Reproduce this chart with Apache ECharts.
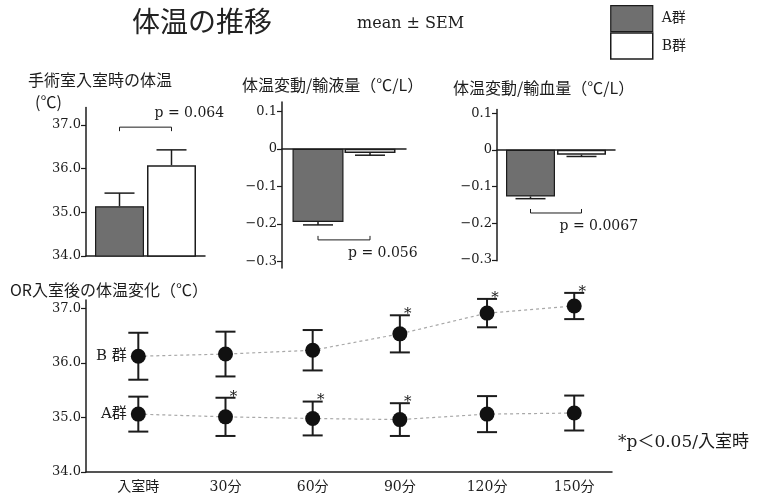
<!DOCTYPE html>
<html>
<head>
<meta charset="utf-8">
<script src="https://cdn.jsdelivr.net/npm/echarts@6/dist/echarts.min.js"></script>
<style>
  html, body { margin: 0; padding: 0; background: #fff; }
  #main { width: 764px; height: 495px; }
</style>
</head>
<body>
<div id="main"></div>
<script>
// --- data ---
const groups = ['A群', 'B群'];
const orMean = [35.14, 36.08];        // 手術室入室時の体温
const orSem = [0.30, 0.35];
const fluidMean = [-0.195, -0.011];   // 体温変動/輸液量
const fluidSem = [0.008, 0.006];
const bloodMean = [-0.127, -0.013];   // 体温変動/輸血量
const bloodSem = [0.006, 0.005];
const pLabels = ['p = 0.064', 'p = 0.056', 'p = 0.0067'];
const bracketLevel = [36.95, -0.243, -0.172];

const times = ['入室時', '30分', '60分', '90分', '120分', '150分'];
const minutes = [0, 30, 60, 90, 120, 150];
const meanA = [35.06, 35.01, 34.98, 34.96, 35.06, 35.08];
const semA = [0.32, 0.35, 0.31, 0.30, 0.33, 0.32];
const sigA = [0, 1, 1, 1, 0, 0];
const meanB = [36.12, 36.16, 36.23, 36.53, 36.91, 37.04];
const semB = [0.43, 0.41, 0.37, 0.34, 0.26, 0.24];
const sigB = [0, 0, 0, 1, 1, 1];

const tempTicks = [34, 35, 36, 37];
const ratioTicks = [0.1, 0, -0.1, -0.2, -0.3];

const SERIF = "'DejaVu Serif', 'Noto Sans CJK JP', serif";
const JP = "'Noto Sans CJK JP', sans-serif";
const ink = '#1c1c1c';
const grayFill = '#6f6f6f';

const tempFmt = v => v.toFixed(1);
const ratioFmt = v => v === 0 ? '0' : (v < 0 ? '\u2212' + Math.abs(v).toFixed(1) : v.toFixed(1));

// three small bar panels
const panels = [
    {grid: {left: 86, top: 107.5, width: 119, height: 148.5}, min: 34, max: 37.4, ticks: tempTicks, fmt: tempFmt,
     mean: orMean, sem: orSem, bw: 49, gap: 3, dir: 1, pdx: -17, pdy: -14},
    {grid: {left: 282, top: 102, width: 124, height: 166}, min: -0.318, max: 0.125, ticks: ratioTicks, fmt: ratioFmt,
     mean: fluidMean, sem: fluidSem, bw: 51, gap: 1, dir: -1, pdx: -22, pdy: 13},
    {grid: {left: 497, top: 109.5, width: 118, height: 151.2}, min: -0.302, max: 0.11, ticks: ratioTicks, fmt: ratioFmt,
     mean: bloodMean, sem: bloodSem, bw: 49, gap: 2, dir: -1, pdx: -22, pdy: 13}
];

const grids = [], xAxes = [], yAxes = [], series = [];

function yAxisOf(i, min, max, ticks, fmt) {
    return {
        gridIndex: i, type: 'value', min: min, max: max,
        splitLine: {show: false},
        axisLine: {show: true, onZero: false, lineStyle: {color: ink, width: 1.5}},
        axisTick: {show: true, length: 5, customValues: ticks, lineStyle: {color: ink, width: 1.2}},
        axisLabel: {customValues: ticks, formatter: fmt, fontFamily: SERIF, fontSize: 13, color: ink, margin: 5}
    };
}

panels.forEach(function (p, i) {
    grids.push(p.grid);
    xAxes.push({
        gridIndex: i, type: 'category', data: [''],
        axisLine: {show: true, onZero: true, lineStyle: {color: ink, width: 1.5}},
        axisTick: {show: false}, axisLabel: {show: false}
    });
    yAxes.push(yAxisOf(i, p.min, p.max, p.ticks, p.fmt));
    groups.forEach(function (g, k) {
        series.push({
            type: 'bar', name: g, xAxisIndex: i, yAxisIndex: i,
            data: [p.mean[k]],
            barWidth: p.bw, barGap: (p.gap / p.bw * 100) + '%',
            itemStyle: k === 0
                ? {color: grayFill, borderColor: ink, borderWidth: 1.2}
                : {color: '#fff', borderColor: ink, borderWidth: 1.5},
            z: 2
        });
    });
    const off = (p.bw + p.gap) / 2;
    // error bars (one side, away from zero)
    series.push({
        type: 'custom', xAxisIndex: i, yAxisIndex: i, z: 3,
        data: groups.map((g, k) => [0, p.mean[k], p.sem[k], k]),
        renderItem: function (params, api) {
            const m = api.value(1), s = api.value(2), k = api.value(3);
            const end = m >= 0 ? m + s : m - s;
            const c = api.coord([0, m]), e = api.coord([0, end]);
            const x = c[0] + (k === 0 ? -off : off);
            const st = {stroke: ink, lineWidth: 1.5};
            return {type: 'group', children: [
                {type: 'line', shape: {x1: x, y1: c[1], x2: x, y2: e[1]}, style: st},
                {type: 'line', shape: {x1: x - 15, y1: e[1], x2: x + 15, y2: e[1]}, style: st}
            ]};
        }
    });
    // significance bracket + p value
    series.push({
        type: 'custom', xAxisIndex: i, yAxisIndex: i, z: 3,
        data: [[0, bracketLevel[i]]],
        renderItem: function (params, api) {
            const c = api.coord([0, api.value(1)]);
            const xA = c[0] - off, xB = c[0] + off, y = c[1], d = p.dir * 4;
            return {type: 'group', children: [
                {type: 'polyline', shape: {points: [[xA, y + d], [xA, y], [xB, y], [xB, y + d]]},
                 style: {stroke: ink, lineWidth: 1, fill: null}},
                {type: 'text', x: xB + p.pdx, y: y + p.pdy,
                 style: {text: pLabels[i], fontFamily: SERIF, fontSize: 14, fill: ink, align: 'left', verticalAlign: 'middle'}}
            ]};
        }
    });
});

// bottom time course panel
grids.push({left: 86, top: 300, width: 526, height: 172});
xAxes.push({
    gridIndex: 3, type: 'value', min: -18, max: 163,
    splitLine: {show: false},
    axisLine: {show: true, onZero: false, lineStyle: {color: ink, width: 1.5}},
    axisTick: {show: false},
    axisLabel: {customValues: minutes, formatter: v => times[minutes.indexOf(v)], fontFamily: SERIF, fontSize: 14, color: ink, margin: 8}
});
yAxes.push(yAxisOf(3, 34, 37.15, tempTicks, tempFmt));

function errSeries(mean, sem, sig) {
    return {
        type: 'custom', xAxisIndex: 3, yAxisIndex: 3, z: 2,
        data: minutes.map((m, k) => [m, mean[k] - sem[k], mean[k] + sem[k], sig[k]]),
        renderItem: function (params, api) {
            const lo = api.coord([api.value(0), api.value(1)]);
            const hi = api.coord([api.value(0), api.value(2)]);
            const x = lo[0], st = {stroke: ink, lineWidth: 2};
            const kids = [
                {type: 'line', shape: {x1: x, y1: lo[1], x2: x, y2: hi[1]}, style: st},
                {type: 'line', shape: {x1: x - 10, y1: lo[1], x2: x + 10, y2: lo[1]}, style: st},
                {type: 'line', shape: {x1: x - 10, y1: hi[1], x2: x + 10, y2: hi[1]}, style: st}
            ];
            if (api.value(3)) {
                kids.push({type: 'text', x: x + 8, y: hi[1] - 1,
                    style: {text: '*', fontFamily: SERIF, fontSize: 15, fill: ink, align: 'center', verticalAlign: 'middle'}});
            }
            return {type: 'group', children: kids};
        }
    };
}

function lineSeries(name, mean, tag) {
    return {
        type: 'line', xAxisIndex: 3, yAxisIndex: 3, z: 3, clip: false,
        data: minutes.map((m, k) => k === 0
            ? {value: [m, mean[k]], label: {show: true, position: 'left', distance: 4, formatter: tag,
               fontFamily: SERIF, fontSize: 15, color: ink}}
            : [m, mean[k]]),
        symbol: 'circle', symbolSize: 15,
        itemStyle: {color: '#111'},
        lineStyle: {color: '#a8a8a8', width: 1.2, type: [3, 3]}
    };
}

series.push(errSeries(meanA, semA, sigA), errSeries(meanB, semB, sigB));
series.push(lineSeries('A群 経時', meanA, 'A群'), lineSeries('B群 経時', meanB, 'B 群'));

const chart = echarts.init(document.getElementById('main'));
chart.setOption({
    animation: false,
    backgroundColor: '#fff',
    title: [
        {text: '体温の推移', left: 132, top: 7, padding: 0, textStyle: {fontFamily: JP, fontSize: 28, fontWeight: 'normal', color: '#222'}},
        {text: 'mean ± SEM', left: 357, top: 16, padding: 0, textStyle: {fontFamily: SERIF, fontSize: 16, fontWeight: 'normal', color: ink}},
        {text: '手術室入室時の体温', left: 28, top: 72, padding: 0, textStyle: {fontFamily: JP, fontSize: 16, fontWeight: 'normal', color: ink}},
        {text: '(℃)', left: 35, top: 94, padding: 0, textStyle: {fontFamily: JP, fontSize: 16, fontWeight: 'normal', color: ink}},
        {text: '体温変動/輸液量（℃/L）', left: 242, top: 77, padding: 0, textStyle: {fontFamily: JP, fontSize: 16, fontWeight: 'normal', color: ink}},
        {text: '体温変動/輸血量（℃/L）', left: 453, top: 80, padding: 0, textStyle: {fontFamily: JP, fontSize: 16, fontWeight: 'normal', color: ink}},
        {text: 'OR入室後の体温変化（℃）', left: 10, top: 282, padding: 0, textStyle: {fontFamily: JP, fontSize: 16, fontWeight: 'normal', color: ink}},
        {text: '*p＜0.05/入室時', left: 618, top: 434, padding: 0, textStyle: {fontFamily: SERIF, fontSize: 17, fontWeight: 'normal', color: ink}}
    ],
    legend: {
        data: [
            {name: 'A群', itemStyle: {color: grayFill, borderColor: ink, borderWidth: 1.2}},
            {name: 'B群', itemStyle: {color: '#fff', borderColor: ink, borderWidth: 1.5}}
        ],
        orient: 'vertical', left: 610, top: 5, padding: 0,
        itemWidth: 42, itemHeight: 26, itemGap: 0, icon: 'rect',
        selectedMode: false,
        textStyle: {fontFamily: SERIF, fontSize: 14, color: ink, padding: [0, 0, 0, 4]}
    },
    grid: grids,
    xAxis: xAxes,
    yAxis: yAxes,
    series: series
});
</script>
</body>
</html>
